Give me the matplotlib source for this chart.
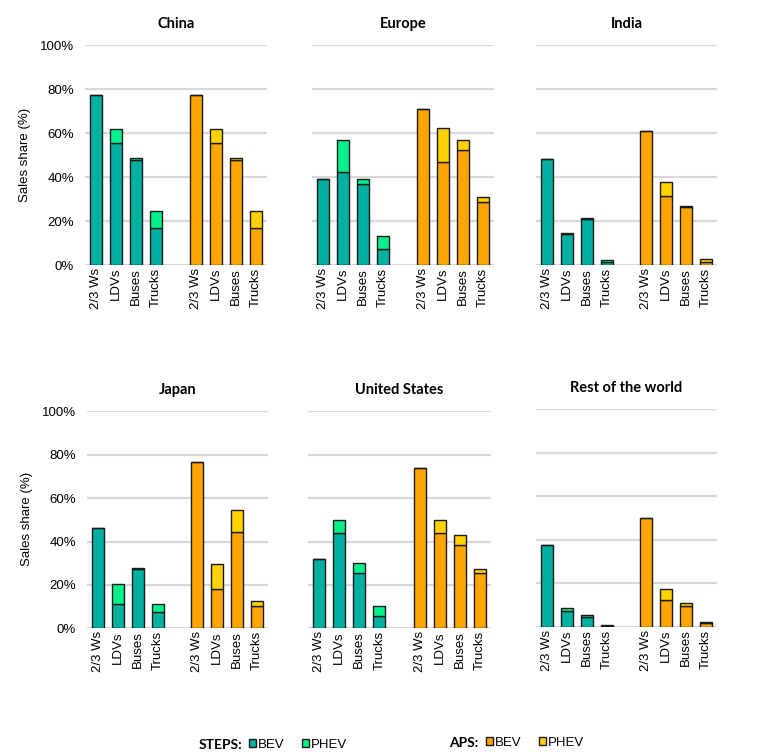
import matplotlib

matplotlib.use("Agg")
import matplotlib.pyplot as plt
from matplotlib.patches import Patch
from matplotlib.ticker import PercentFormatter

plt.rcParams["font.family"] = ["Liberation Sans", "DejaVu Sans"]

regions = ["China", "Europe", "India", "Japan", "United States", "Rest of the world"]
categories = ["2/3 Ws", "LDVs", "Buses", "Trucks"]

# Sales share (%) per region, order of categories above
steps_bev = [
    [77.6, 55.6, 47.6, 16.7],
    [39.1, 42.3, 37.0, 7.4],
    [48.4, 14.2, 21.1, 1.2],
    [46.4, 11.2, 27.5, 7.4],
    [32.0, 43.8, 25.7, 5.5],
    [37.4, 7.3, 4.4, 0.5],
]
steps_phev = [
    [0.0, 6.2, 1.2, 7.8],
    [0.0, 14.4, 2.2, 5.6],
    [0.0, 0.5, 0.4, 1.1],
    [0.0, 9.2, 0.5, 3.6],
    [0.0, 6.1, 4.2, 4.9],
    [0.0, 1.1, 1.2, 0.4],
]
aps_bev = [
    [77.6, 55.6, 47.6, 16.7],
    [71.2, 46.8, 52.4, 28.8],
    [61.1, 31.4, 26.5, 1.5],
    [76.6, 18.2, 44.3, 10.4],
    [74.0, 43.8, 38.6, 25.7],
    [49.9, 12.2, 9.5, 1.8],
]
aps_phev = [
    [0.0, 6.2, 1.2, 7.8],
    [0.0, 15.5, 4.7, 2.0],
    [0.0, 6.3, 0.3, 1.2],
    [0.0, 11.5, 10.2, 2.0],
    [0.0, 6.1, 4.4, 1.8],
    [0.0, 5.1, 1.3, 0.5],
]

STEPS_BEV_C = "#00b0a0"
STEPS_PHEV_C = "#00f08c"
APS_BEV_C = "#ffa500"
APS_PHEV_C = "#ffd200"
EDGE = "#1a1a1a"

W, H = 782, 756
fig = plt.figure(figsize=(W / 100, H / 100), dpi=100)

# axes boxes in pixels: (left, right, top, bottom)
boxes = [
    (85, 267, 44.5, 265),
    (312, 494, 44.5, 265),
    (536, 717, 44.5, 265),
    (87, 268, 410.5, 628.3),
    (308, 491, 410.5, 628.3),
    (536, 717, 408.5, 626.7),
]

steps_x = [0, 1, 2, 3]
aps_x = [5, 6, 7, 8]
width = 0.6

for i, region in enumerate(regions):
    l, r, t, b = boxes[i]
    ax = fig.add_axes([l / W, (H - b) / H, (r - l) / W, (b - t) / H])
    sb = [v / 100 for v in steps_bev[i]]
    sp = [v / 100 for v in steps_phev[i]]
    ab = [v / 100 for v in aps_bev[i]]
    ap = [v / 100 for v in aps_phev[i]]
    kw = dict(width=width, edgecolor=EDGE, linewidth=1.0, zorder=3)
    ax.bar(steps_x, sb, color=STEPS_BEV_C, **kw)
    ax.bar(steps_x, sp, bottom=sb, color=STEPS_PHEV_C, **kw)
    ax.bar(aps_x, ab, color=APS_BEV_C, **kw)
    ax.bar(aps_x, ap, bottom=ab, color=APS_PHEV_C, **kw)

    ax.set_xlim(-0.55, 8.55)
    ax.set_ylim(0, 1.004)
    ax.set_yticks([0, 0.2, 0.4, 0.6, 0.8, 1.0])
    ax.yaxis.set_major_formatter(PercentFormatter(1.0, decimals=0))
    ax.grid(axis="y", color="#d9d9d9", linewidth=1.6, zorder=0)
    ax.set_axisbelow(True)
    for s in ax.spines.values():
        s.set_visible(False)
    ax.set_xticks(steps_x + aps_x)
    ax.set_xticklabels(categories + categories, rotation=90, fontsize=9.5,
                       family=["Liberation Sans", "DejaVu Sans"])
    ax.tick_params(axis="x", length=0, pad=2)
    ax.tick_params(axis="y", length=0, pad=8, labelsize=9.5)
    if i % 3 != 0:
        ax.set_yticklabels([])
    else:
        ax.set_ylabel("Sales share (%)", fontsize=9.5, labelpad=6,
                      family=["Liberation Sans", "DejaVu Sans"])
    ax.set_title(region, fontsize=10.5, fontweight="bold", pad=12,
                 family=["Lato", "DejaVu Sans"])

# legend
fig.text(199 / W, 11 / H, "STEPS:", fontsize=10, fontweight="bold",
         family=["Lato", "DejaVu Sans"], va="center")
fig.text(449 / W, 13 / H, "APS:", fontsize=10, fontweight="bold",
         family=["Lato", "DejaVu Sans"], va="center")
leg_kw = dict(ncol=2, frameon=False, fontsize=9.5, handlelength=0.55,
              handleheight=0.55, handletextpad=0.15, columnspacing=1.3,
              borderpad=0, borderaxespad=0)
fig.legend(handles=[Patch(facecolor=STEPS_BEV_C, edgecolor=EDGE, label="BEV"),
                    Patch(facecolor=STEPS_PHEV_C, edgecolor=EDGE, label="PHEV")],
           loc="center left", bbox_to_anchor=(249 / W, 11 / H), **leg_kw)
fig.legend(handles=[Patch(facecolor=APS_BEV_C, edgecolor=EDGE, label="BEV"),
                    Patch(facecolor=APS_PHEV_C, edgecolor=EDGE, label="PHEV")],
           loc="center left", bbox_to_anchor=(486 / W, 13 / H), **leg_kw)

fig.savefig("out.png", dpi=100)
